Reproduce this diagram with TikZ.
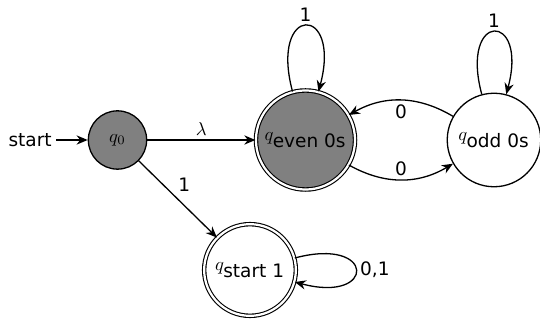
\documentclass[tikz,border=0pt]{standalone}
\usepackage{fontspec}
\setmainfont{DejaVu Sans}
\usetikzlibrary{arrows.meta,automata}
\begin{document}
\begin{tikzpicture}[x=0.54pt,y=0.54pt,line width=0.7pt,
  >={Stealth[length=6pt,width=5pt]},
  every edge/.style={draw,->},
  st/.style={circle,draw,inner sep=0pt,font=\normalsize},
  acc/.style={st,double,double distance=1.2pt,line width=0.6pt},
  lbl/.style={inner sep=2pt,font=\normalsize},
  lpa/.style={out=105,in=75,looseness=9,min distance=5mm},
  lpr/.style={out=15,in=-15,looseness=9,min distance=5mm}]
\useasboundingbox (0,0) rectangle (540,-320);
\node[st,fill=gray,minimum size=31.5pt] (q0) at (117.5,-140) {$q_0$};
\node[acc,fill=gray,minimum size=53.5pt] (qe) at (305.5,-140) {$q_{\mbox{even 0s}}$};
\node[st,minimum size=50.5pt] (qo) at (494,-140) {$q_{\mbox{odd 0s}}$};
\node[acc,minimum size=49.5pt] (qs) at (250,-270) {$q_{\mbox{start 1}}$};
\node[lbl,anchor=east] (start) at (56,-140) {start};
\draw[->] (start) -- (q0);
\path (q0) edge node[lbl,above] {$\lambda$} (qe)
      (q0) edge node[lbl,above right,pos=0.45] {1} (qs)
      (qe) edge[lpa] node[lbl,above] {1} (qe)
      (qo) edge[lpa] node[lbl,above] {1} (qo)
      (qs) edge[lpr] node[lbl,right] {0,1} (qs)
      (qo) edge[bend right=30] node[lbl,below] {0} (qe)
      (qe) edge[bend right=30] node[lbl,above] {0} (qo);
\end{tikzpicture}
\end{document}
